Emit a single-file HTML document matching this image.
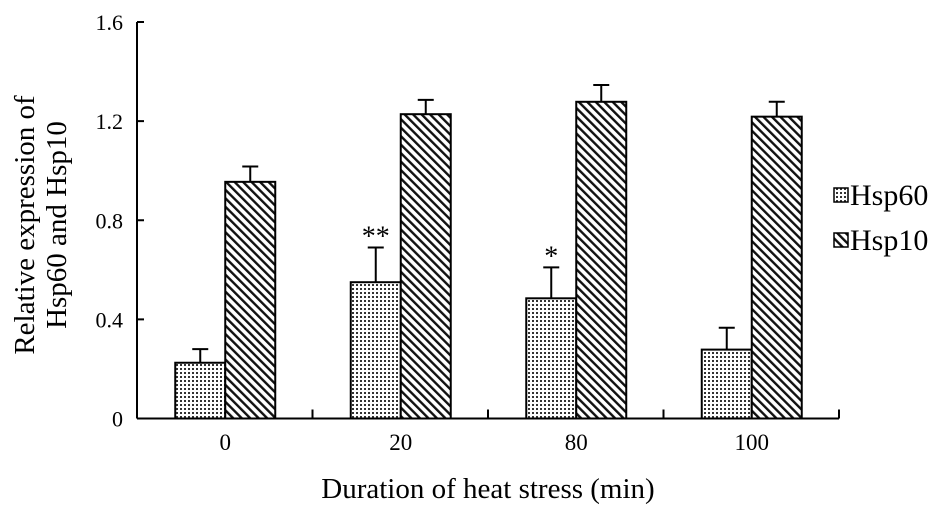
<!DOCTYPE html>
<html><head><meta charset="utf-8"><style>
body{margin:0;background:#fff}
svg{display:block;font-family:"Liberation Serif",serif}
</style></head><body>
<svg width="945" height="515">
<defs>
<pattern id="dots" width="4" height="4" patternUnits="userSpaceOnUse"><rect width="4" height="4" fill="#fff"/><rect width="2" height="2" fill="#333"/></pattern>
<pattern id="hatch" width="6" height="6" patternUnits="userSpaceOnUse" patternTransform="rotate(-45)"><rect width="6" height="6" fill="#fff"/><rect width="2.4" height="6" fill="#111"/></pattern>
</defs>
<g id="chart"></g>
</svg>
<script>
const categories=["0","20","80","100"];
const hsp60=[0.225,0.55,0.485,0.278];
const hsp60Err=[0.055,0.14,0.125,0.088];
const hsp10=[0.955,1.228,1.278,1.218];
const hsp10Err=[0.062,0.058,0.068,0.06];
const yTicks=[0,0.4,0.8,1.2,1.6];
const yTickLabels=["0","0.4","0.8","1.2","1.6"];
const stars=["","**","*",""];

const NS="http://www.w3.org/2000/svg";
const g=document.getElementById('chart');
const x0=137,x1=839,y0=418.5,yTop=22;
const y=v=>y0-(v/1.6)*(y0-yTop);
const bw=(x1-x0)/categories.length;
const cx=i=>x0+bw*(i+0.5)+0.5;
function el(t,a){const e=document.createElementNS(NS,t);for(const k in a)e.setAttribute(k,a[k]);g.appendChild(e);return e;}
let e;
e=el('line',{x1:x0,y1:yTop,x2:x0,y2:y0,stroke:'#000','stroke-width':2});


e=el('line',{x1:x0,y1:y0,x2:x1,y2:y0,stroke:'#000','stroke-width':2});


yTicks.forEach((v,i)=>{
 e=el('line',{x1:x0,y1:y(v),x2:x0+7,y2:y(v),stroke:'#000','stroke-width':2});
 
 
 e=el('text',{x:x0-14,y:y(v)+8,'text-anchor':'end','font-size':22});
 e.textContent=yTickLabels[i];
 
 
});
for(let i=1;i<=categories.length;i++){
 e=el('line',{x1:x0+bw*i,y1:y0,x2:x0+bw*i,y2:y0-9,stroke:'#000','stroke-width':2});
 
 
}
const w=50;
categories.forEach((c,i)=>{
 const c0=cx(i);
 [[hsp60,hsp60Err,'url(#dots)',c0-w,'bar-hsp60'],[hsp10,hsp10Err,'url(#hatch)',c0,'bar-hsp10']].forEach(([vals,errs,fill,bx,nm])=>{
  e=el('line',{x1:bx+w/2,y1:y(vals[i]),x2:bx+w/2,y2:y(vals[i]+errs[i]),stroke:'#000','stroke-width':2});
  
  
  e=el('line',{x1:bx+w/2-8,y1:y(vals[i]+errs[i]),x2:bx+w/2+8,y2:y(vals[i]+errs[i]),stroke:'#000','stroke-width':2});
  
  
  e=el('rect',{x:bx,y:y(vals[i]),width:w,height:y0-y(vals[i]),fill:fill,stroke:'#000','stroke-width':2});
  
  
 });
 if(stars[i]){
  e=el('text',{x:c0-w/2,y:y(hsp60[i]+hsp60Err[i])-2,'text-anchor':'middle','font-size':28});
  e.textContent=stars[i];
  
  
 }
 e=el('text',{x:c0,y:450,'text-anchor':'middle','font-size':23});
 e.textContent=c;
 
 
});
e=el('text',{x:488,y:498,'text-anchor':'middle','font-size':29});
e.textContent='Duration of heat stress (min)';


e=el('text',{transform:'translate(34,225) rotate(-90)','text-anchor':'middle','font-size':29});
e.textContent='Relative expression of';


e=el('text',{transform:'translate(66,225) rotate(-90)','text-anchor':'middle','font-size':29});
e.textContent='Hsp60 and Hsp10';


[['Hsp60','url(#dots)',203],['Hsp10','url(#hatch)',248]].forEach(([t,f,ly])=>{
 e=el('rect',{x:834,y:ly-15,width:14,height:14,fill:f,stroke:'#000','stroke-width':1.5});
 
 
 e=el('text',{x:850,y:ly+2,'font-size':30});
 e.textContent=t;
 
 
});
</script>
</body></html>
